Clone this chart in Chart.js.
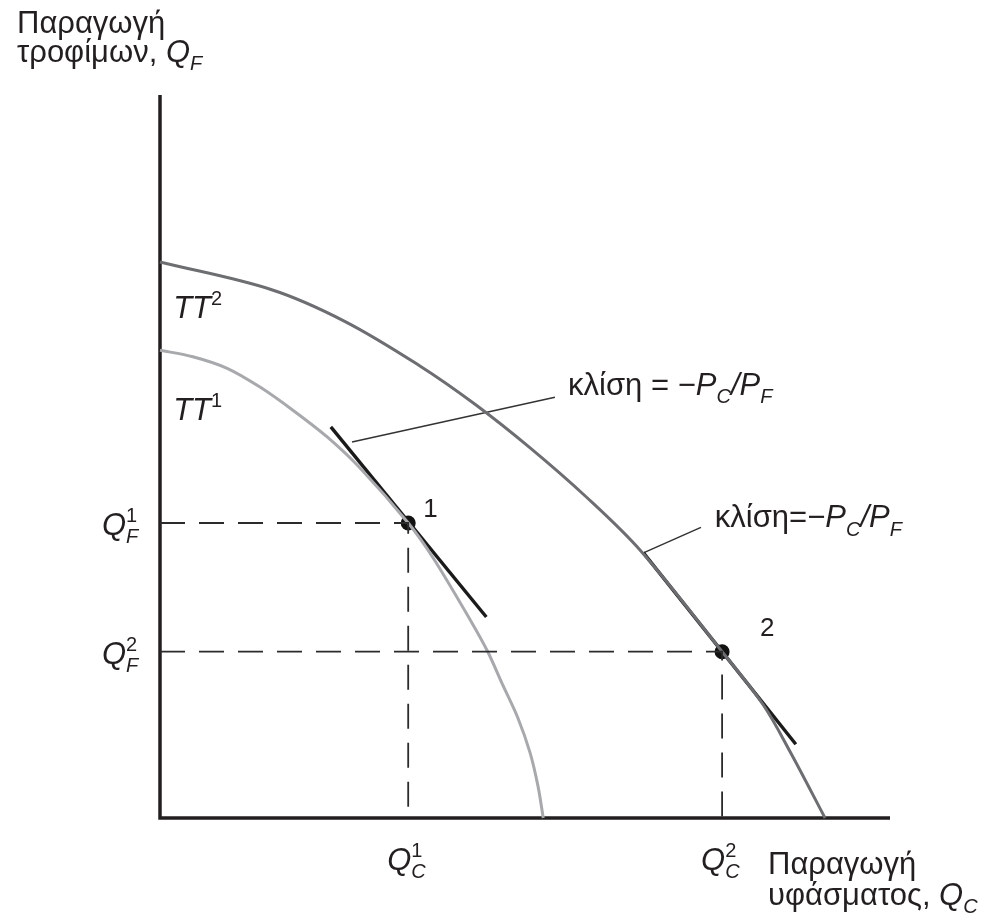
<!DOCTYPE html>
<html lang="el">
<head>
<meta charset="UTF-8">
<title>Καμπύλες μετασχηματισμού TT1 και TT2</title>
<script src="https://cdn.jsdelivr.net/npm/chart.js"></script>
<style>
  body { margin: 0; background: #fff; }
  canvas { display: block; }
</style>
</head>
<body>
<canvas id="ppf" width="994" height="922"></canvas>
<script>
// both axes run 0..10 (units)
const tt1X = [0, 0.45, 0.92, 1.37, 1.82, 2.29, 2.74, 3.40, 3.74, 4.25, 4.49, 4.70, 4.90, 5.07, 5.18, 5.25];
const tt1Y = [6.47, 6.38, 6.22, 5.96, 5.64, 5.27, 4.84, 4.08, 3.60, 2.74, 2.30, 1.83, 1.39, 0.90, 0.43, 0];
const tt2X = [0, 1.52, 2.53, 3.55, 4.32, 5.07, 5.84, 6.59, 7.70, 8.26, 8.63, 9.11];
const tt2Y = [7.69, 7.31, 6.87, 6.26, 5.72, 5.12, 4.44, 3.69, 2.30, 1.57, 0.92, 0];

const eqX = [3.40, 7.70];   // Q_C^1, Q_C^2
const eqY = [4.08, 2.30];   // Q_F^1, Q_F^2
const eqNames = ['1', '2'];

const tan1X = [2.34, 4.47], tan1Y = [5.41, 2.78];
const tan2X = [6.62, 8.71], tan2Y = [3.67, 1.02];
const lead1X = [2.63, 5.41], lead1Y = [5.20, 5.82];
const lead2X = [6.63, 7.41], lead2Y = [3.67, 4.02];

const INK = '#231f20';
const FONT = '"Liberation Sans", Arial, Helvetica, sans-serif';

function zip(xs, ys) {
    return xs.map((x, i) => ({ x: x, y: ys[i] }));
}

function lineSet(data, color, width, extra) {
    return Object.assign({
        data: data,
        showLine: true,
        borderColor: color,
        borderWidth: width,
        pointRadius: 0,
        tension: 0,
        clip: false
    }, extra || {});
}

// draw text made of parts: {t, it, sup, sub, stack}
function drawRich(ctx, x, y, parts, size) {
    let cx = x;
    for (const p of parts) {
        const fs = (p.sub || p.sup) ? Math.round(size * 0.66) : size;
        ctx.font = (p.it ? 'italic ' : '') + fs + 'px ' + FONT;
        const dy = p.sub ? size * 0.27 : p.sup ? -size * 0.42 : 0;
        ctx.fillText(p.t, cx, y + dy);
        if (!p.stack) cx += ctx.measureText(p.t).width;
    }
}

const labelsPlugin = {
    id: 'labels',
    afterDatasetsDraw(chart) {
        const ctx = chart.ctx;
        const xs = chart.scales.x, ys = chart.scales.y;
        const area = chart.chartArea;
        const size = 31;
        ctx.save();
        ctx.fillStyle = INK;
        ctx.textAlign = 'left';
        ctx.textBaseline = 'alphabetic';

        // axis titles
        drawRich(ctx, area.left - 143, area.top - 62, [{ t: 'Παραγωγή' }], size);
        drawRich(ctx, area.left - 143, area.top - 33,
            [{ t: 'τροφίμων, ' }, { t: 'Q', it: true }, { t: 'F', it: true, sub: true }], size);
        drawRich(ctx, area.right - 122, area.bottom + 56, [{ t: 'Παραγωγή' }], size);
        drawRich(ctx, area.right - 122, area.bottom + 87,
            [{ t: 'υφάσματος, ' }, { t: 'Q', it: true }, { t: 'C', it: true, sub: true }], size);

        // curve names
        drawRich(ctx, xs.getPixelForValue(0.18), ys.getPixelForValue(6.92),
            [{ t: 'TT', it: true }, { t: '2', sup: true }], size);
        drawRich(ctx, xs.getPixelForValue(0.18), ys.getPixelForValue(5.50),
            [{ t: 'TT', it: true }, { t: '1', sup: true }], size);

        // slope labels
        drawRich(ctx, xs.getPixelForValue(5.59), ys.getPixelForValue(5.85),
            [{ t: 'κλίση = −' }, { t: 'P', it: true }, { t: 'C', it: true, sub: true },
             { t: '/', it: true }, { t: 'P', it: true }, { t: 'F', it: true, sub: true }], size);
        drawRich(ctx, xs.getPixelForValue(7.60), ys.getPixelForValue(4.02),
            [{ t: 'κλίση=−' }, { t: 'P', it: true }, { t: 'C', it: true, sub: true },
             { t: '/', it: true }, { t: 'P', it: true }, { t: 'F', it: true, sub: true }], size);

        // equilibrium numbers and axis values
        const numOffset = [[15, -6], [38, -16]];
        eqX.forEach((qx, i) => {
            const px = xs.getPixelForValue(qx), py = ys.getPixelForValue(eqY[i]);
            drawRich(ctx, px + numOffset[i][0], py + numOffset[i][1], [{ t: eqNames[i] }], 26);
            const idx = String(i + 1);
            drawRich(ctx, area.left - 58, py + 12,
                [{ t: 'Q', it: true }, { t: idx, sup: true, stack: true }, { t: 'F', it: true, sub: true }], size);
            drawRich(ctx, px - 21, area.bottom + 52,
                [{ t: 'Q', it: true }, { t: idx, sup: true, stack: true }, { t: 'C', it: true, sub: true }], size);
        });
        ctx.restore();
    }
};

const datasets = [];
eqX.forEach((qx, i) => {
    datasets.push(lineSet([{ x: 0, y: eqY[i] }, { x: qx, y: eqY[i] }, { x: qx, y: 0 }],
        '#2b2b2b', 1.8, { borderDash: [25, 14] }));
});
datasets.push(lineSet(zip(tt1X, tt1Y), '#a7a9ac', 3, { tension: 0.3 }));
datasets.push(lineSet(zip(tt2X, tt2Y), '#6d6e71', 3, { tension: 0.35 }));
datasets.push(lineSet(zip(tan1X, tan1Y), '#1a1a1a', 3.4));
datasets.push(lineSet(zip(tan2X, tan2Y), '#1a1a1a', 3.4));
datasets.push(lineSet(zip(lead1X, lead1Y), '#333', 1.5));
datasets.push(lineSet(zip(lead2X, lead2Y), '#333', 1.5));
datasets.push(lineSet([{ x: 0, y: 10 }, { x: 0, y: 0 }, { x: 10, y: 0 }], INK, 3.5,
    { borderJoinStyle: 'miter' }));
datasets.push({
    data: zip(eqX, eqY),
    showLine: false,
    pointRadius: 7.5,
    pointBackgroundColor: '#111',
    pointBorderWidth: 0,
    clip: false
});

new Chart(document.getElementById('ppf').getContext('2d'), {
    type: 'scatter',
    data: { datasets: datasets },
    options: {
        responsive: false,
        animation: false,
        devicePixelRatio: 1,
        layout: { padding: { left: 160, top: 95, right: 104, bottom: 104 } },
        scales: {
            x: { type: 'linear', min: 0, max: 10, display: false },
            y: { type: 'linear', min: 0, max: 10, display: false }
        },
        plugins: { legend: { display: false }, tooltip: { enabled: false } },
        events: []
    },
    plugins: [labelsPlugin]
});
</script>
</body>
</html>
